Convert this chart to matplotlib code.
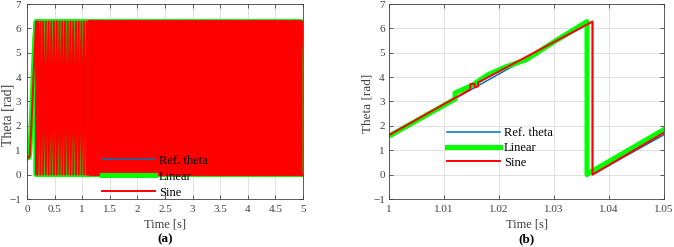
import numpy as np
import matplotlib
matplotlib.use("Agg")
import matplotlib.pyplot as plt

plt.rcParams['font.family'] = ['Liberation Serif', 'DejaVu Serif']

# ---------------- data ----------------
TWO_PI = 6.2832
# panel (a): start-up transient (time, theta)
a_start_t = [0.0, 0.01, 0.02, 0.035, 0.05, 0.08, 0.11, 0.14, 0.165]
a_start_ref = [0.75, 0.72, 0.69, 0.70, 0.80, 2.0, 3.6, 5.2, 6.28]
a_start_lin = [0.75, 0.72, 0.69, 0.70, 0.85, 2.3, 4.0, 5.6, 6.28]
a_start_sin = [0.75, 0.72, 0.69, 0.70, 0.80, 2.0, 3.6, 5.2, 6.28]
# sawtooth: ref wraps at 1.037 s, linear at 1.036 s, period ~0.0497 s
saw_period = 0.0497
ref_wrap = 1.037
lin_wrap = 1.036
lin_wrap_early = 1.030  # linear controller phase before ~1.1 s
saw_end = 5.0

# panel (b)
b_ref_t = [1.0, 1.037, 1.037, 1.05]
b_ref_v = [1.60, 6.28, 0.0, 1.64]
b_lin_t = [1.0, 1.012, 1.012, 1.015, 1.018, 1.021, 1.025, 1.030, 1.036, 1.036, 1.037, 1.05]
b_lin_v = [1.58, 3.10, 3.35, 3.65, 4.10, 4.40, 4.72, 5.45, 6.28, 0.0, 0.15, 1.85]
b_sin_t = [1.0, 1.0148, 1.0148, 1.0156, 1.0156, 1.0162, 1.0162, 1.037, 1.037, 1.05]
b_sin_v = [1.62, 3.50, 3.72, 3.72, 3.58, 3.62, 3.78, 6.28, 0.0, 1.72]

labels = ['Ref. theta', 'Linear', 'Sine']
colors = ['#0072BD', '#00FF00', '#FF0000']
widths = [1.1, 3.6, 1.4]


def sawtooth_vertices(t_start_val, wrap_time, period, t_end):
    # vertices of a wrapped ramp: rises to 2*pi, drops to 0 at each wrap instant
    k0 = int(np.ceil((t_start_val - wrap_time) / period))
    wraps = wrap_time + period * np.arange(k0, int((t_end - wrap_time) / period) + 2)
    wraps = wraps[(wraps > t_start_val) & (wraps < t_end)]
    t = [t_start_val]
    v = [0.0]
    for w in wraps:
        t += [w, w]
        v += [TWO_PI, 0.0]
    t.append(t_end)
    v.append(TWO_PI * (t_end - t[-1]) / period)
    return np.array(t), np.array(v)


def series_a(start_t, start_v, wrap_time):
    t0 = start_t[-1]
    st, sv = sawtooth_vertices(t0, wrap_time, saw_period, saw_end)
    return np.concatenate([start_t, st]), np.concatenate([start_v, sv])


ra_t, ra_v = series_a(a_start_t, a_start_ref, ref_wrap)
la_t1, la_v1 = series_a(a_start_t, a_start_lin, lin_wrap_early)
la_t2, la_v2 = sawtooth_vertices(1.1, lin_wrap, saw_period, saw_end)
sa_t, sa_v = series_a(a_start_t, a_start_sin, ref_wrap)

fig = plt.figure(figsize=(6.74, 2.47), dpi=100)
axA = fig.add_axes([27 / 674, 1 - 199 / 247, 276 / 674, 195 / 247])
axB = fig.add_axes([389 / 674, 1 - 199 / 247, 275 / 674, 195 / 247])

# panel a
axA.plot(ra_t, ra_v, color=colors[0], lw=widths[0], label=labels[0])
m1 = la_t1 <= 1.1
axA.plot(la_t1[m1], la_v1[m1], color=colors[1], lw=widths[1], label=labels[1])
axA.plot(la_t2, la_v2, color=colors[1], lw=widths[1])
m_early = sa_t <= 1.1
axA.plot(sa_t[m_early], sa_v[m_early], color=colors[2], lw=widths[2], label=labels[2])
axA.plot(sa_t[~m_early], sa_v[~m_early], color=colors[2], lw=2.4)
axA.set_xlim(0, 5)
axA.set_xticks(np.arange(0, 5.01, 0.5))
axA.set_xticklabels(['0', '0.5', '1', '1.5', '2', '2.5', '3', '3.5', '4', '4.5', '5'])

# panel b
axB.plot(b_ref_t, b_ref_v, color=colors[0], lw=widths[0], label=labels[0])
axB.plot(b_lin_t, b_lin_v, color=colors[1], lw=widths[1], label=labels[1])
axB.plot(b_sin_t, b_sin_v, color=colors[2], lw=widths[2], label=labels[2])
axB.set_xlim(1, 1.05)
axB.set_xticks([1, 1.01, 1.02, 1.03, 1.04, 1.05])
axB.set_xticklabels(['1', '1.01', '1.02', '1.03', '1.04', '1.05'])

grey = '#404040'
for ax, cap, lx, ly, ysz, ypad, lsp in [
        (axA, '(a)', 0.272, 0.115, 10, 4.3, 0.32),
        (axB, '(b)', 0.211, 0.262, 9.5, 3.0, 0.22)]:
    ax.set_ylim(-1, 7)
    ax.set_yticks(range(-1, 8))
    ax.grid(True, color='#dcdcdc', lw=0.6)
    ax.set_axisbelow(True)
    ax.tick_params(direction='in', top=True, right=True, labelsize=8,
                   colors=grey, length=3, width=0.6)
    ax.tick_params(axis='x', pad=4.3)
    ax.tick_params(axis='y', pad=ypad)
    for s in ax.spines.values():
        s.set_color(grey)
        s.set_linewidth(0.6)
    ax.set_xlabel('Time [s]', fontsize=9, color=grey)
    ax.xaxis.set_label_coords(0.5, -(224 - 199) / 195, transform=ax.transAxes)
    ax.set_ylabel('Theta [rad]', fontsize=ysz, color=grey)
    ax.xaxis.label.set_va('center')
    ax.yaxis.label.set_va('center')
    leg = ax.legend(loc='center left', bbox_to_anchor=(lx, ly), frameon=False,
                    fontsize=9, handlelength=4.2, handletextpad=0.35,
                    labelspacing=lsp, borderpad=0, borderaxespad=0)
    for h, w in zip(leg.get_lines(), widths):
        h.set_linewidth(w)
    bb = ax.get_position()
    fig.text((bb.x0 + bb.x1) / 2, 1 - 239 / 247, cap, ha='center', va='center',
             fontsize=9.5, fontweight='bold')

axA.yaxis.set_label_coords(-(27 - 8) / 276, (199 - 115) / 195)
axB.yaxis.set_label_coords(-(389 - 367) / 275, (199 - 103) / 195)

fig.savefig('out.png', dpi=100)
